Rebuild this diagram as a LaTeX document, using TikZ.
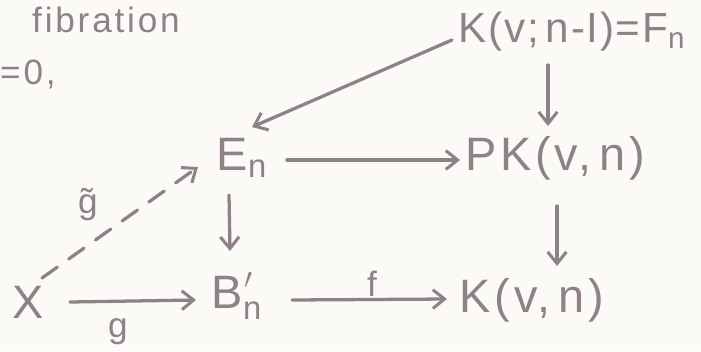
\documentclass[tikz,border=0pt]{standalone}
\usepackage{fontspec}
\setmainfont{Liberation Sans}
\usetikzlibrary{arrows.meta}
\definecolor{pencil}{HTML}{8E8189}
\definecolor{paper}{HTML}{FBFAF7}
\begin{document}
\begin{tikzpicture}[x=0.03cm,y=-0.03cm,
  lbl/.style={text=pencil,font=\fontsize{40}{44}\selectfont\addfontfeature{LetterSpace=8},inner sep=0pt},
  sm/.style={text=pencil,font=\fontsize{30}{34}\selectfont\addfontfeature{LetterSpace=8},inner sep=0pt},
  arr/.style={draw=pencil,line width=2.8pt,line cap=round,-{Straight Barb[length=10pt,width=16pt,line width=2.6pt]}}]
\fill[paper] (0,0) rectangle (701,351);
\useasboundingbox (0,0) rectangle (701,351);
\node[sm] (fib) at (106,20) {fibration};
\node[sm,anchor=west] (zero) at (0,74) {=0,};
\node[lbl,font=\fontsize{36}{40}\selectfont\addfontfeature{LetterSpace=4}] (K1) at (572,32) {K(v;\,n-I)=F\textsubscript{n}};
\node[lbl] (PK) at (555,158) {PK(v,\,n)};
\node[lbl] (E) at (242,158) {E\textsubscript{n}};
\node[lbl] (B) at (237,296) {B\rlap{\raisebox{0.35ex}{\textsuperscript{\kern1pt$\prime$}}}\raisebox{-0.15ex}{\textsubscript{n}}};
\node[lbl] (K) at (532,300) {K(v,\,n)};
\node[lbl] (X) at (28,302) {X};
\node[sm] (gt) at (88,205) {\~{g}};
\node[sm] (f) at (372,284) {f};
\node[sm] (g) at (118,332) {g};
\coordinate (k1w) at (452,40);
\coordinate (ene) at (252,127);
\coordinate (k1s) at (548,65);
\coordinate (pkn) at (548,126);
\coordinate (ee) at (287,160);
\coordinate (pkw) at (460,160);
\coordinate (es) at (229,195);
\coordinate (bn) at (230,251);
\coordinate (pks) at (557,206);
\coordinate (kn) at (557,266);
\coordinate (be) at (292,300);
\coordinate (kw) at (447,299);
\coordinate (xe) at (70,302);
\coordinate (bw) at (196,300);
\coordinate (xne) at (42,278);
\coordinate (esw) at (198,167);
\draw[arr] (k1w) -- (ene);
\draw[arr] (k1s) -- (pkn);
\draw[arr] (ee) -- (pkw);
\draw[arr] (es) -- (bn);
\draw[arr] (pks) -- (kn);
\draw[arr] (be) -- (kw);
\draw[arr] (xe) -- (bw);
\draw[arr,dash pattern=on 16pt off 12pt] (xne) -- (esw);
\end{tikzpicture}
\end{document}
